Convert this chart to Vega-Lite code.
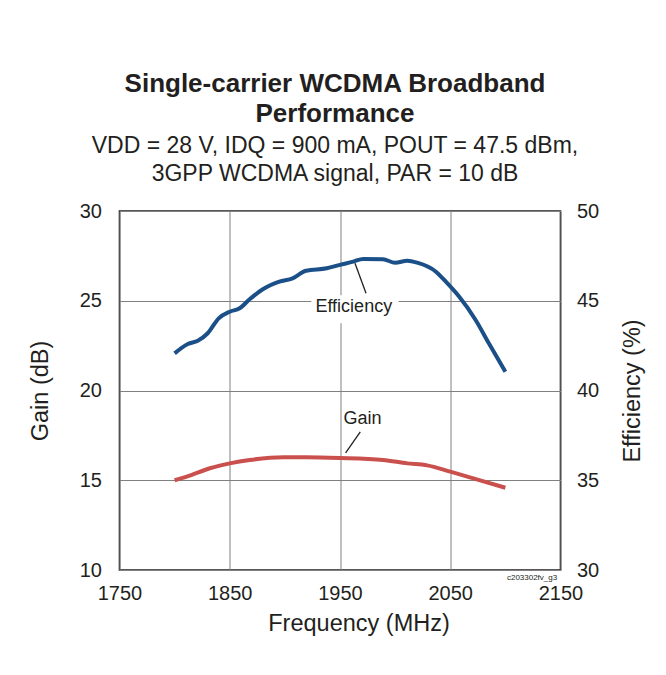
{
  "$schema": "https://vega.github.io/schema/vega-lite/v6.json",
  "width": 441,
  "height": 359,
  "autosize": {"type": "none"},
  "padding": {"left": 119.5, "top": 211, "right": 105.5, "bottom": 105},
  "background": "white",
  "config": {
    "font": "Liberation Sans",
    "view": {"stroke": "#231f20", "strokeWidth": 1.6},
    "axis": {
      "labelFont": "Liberation Sans",
      "titleFont": "Liberation Sans",
      "labelFontSize": 20,
      "titleFontSize": 23.5,
      "titleFontWeight": "normal",
      "labelColor": "#231f20",
      "titleColor": "#231f20",
      "ticks": false,
      "domain": false,
      "labelFlush": false,
      "gridColor": "#808080",
      "gridWidth": 1,
      "gridOpacity": 1
    }
  },
  "title": {
    "text": ["Single-carrier WCDMA Broadband", "Performance"],
    "subtitle": ["VDD = 28 V, IDQ = 900 mA, POUT = 47.5 dBm,", "3GPP WCDMA signal, PAR = 10 dB"],
    "font": "Liberation Sans",
    "subtitleFont": "Liberation Sans",
    "fontSize": 26,
    "fontWeight": "bold",
    "lineHeight": 30,
    "subtitleFontSize": 23,
    "subtitleLineHeight": 28,
    "subtitlePadding": 8,
    "anchor": "middle",
    "frame": "group",
    "offset": 15,
    "dx": -5,
    "color": "#231f20",
    "subtitleColor": "#231f20"
  },
  "encoding": {
    "x": {
      "field": "freq",
      "type": "quantitative",
      "scale": {"domain": [1750, 2150], "nice": false, "zero": false},
      "axis": {
        "values": [1750, 1850, 1950, 2050, 2150],
        "format": "d",
        "title": "Frequency (MHz)",
        "titleX": 239,
        "grid": true,
        "labelPadding": 13,
        "titlePadding": 8
      }
    }
  },
  "layer": [
    {
      "encoding": {
        "y": {
          "field": "gain",
          "type": "quantitative",
          "scale": {"domain": [10, 30], "nice": false, "zero": false},
          "axis": {
            "orient": "left",
            "values": [10, 15, 20, 25, 30],
            "title": "Gain (dB)",
            "grid": true,
            "labelPadding": 18,
            "titlePadding": 27
          }
        }
      },
      "layer": [
        {
          "data": {"values": [
            {"freq": 1800, "gain": 15.0},
            {"freq": 1811, "gain": 15.2},
            {"freq": 1832, "gain": 15.67},
            {"freq": 1850, "gain": 15.94},
            {"freq": 1868, "gain": 16.13},
            {"freq": 1899, "gain": 16.28},
            {"freq": 1919, "gain": 16.28},
            {"freq": 1950, "gain": 16.24},
            {"freq": 1989, "gain": 16.13},
            {"freq": 2011, "gain": 15.94},
            {"freq": 2029, "gain": 15.83},
            {"freq": 2050, "gain": 15.48},
            {"freq": 2074, "gain": 15.05},
            {"freq": 2100, "gain": 14.58}
          ]},
          "mark": {"type": "line", "color": "#c9504d", "strokeWidth": 4, "interpolate": "monotone"}
        },
        {
          "data": {"values": [{"freq": 1955.1, "gain": 16.52, "freq2": 1968.4, "gain2": 17.69}]},
          "mark": {"type": "rule", "color": "#231f20", "strokeWidth": 1.3},
          "encoding": {"x2": {"field": "freq2"}, "y2": {"field": "gain2"}}
        },
        {
          "data": {"values": [{"freq": 1970.4, "gain": 18.41, "label": "Gain"}]},
          "mark": {"type": "text", "fontSize": 18, "color": "#231f20", "baseline": "middle", "align": "center"},
          "encoding": {"text": {"field": "label"}}
        },
        {
          "data": {"values": [{"freq": 2147, "gain": 9.55, "label": "c203302fv_g3"}]},
          "mark": {"type": "text", "fontSize": 8, "color": "#231f20", "baseline": "middle", "align": "right"},
          "encoding": {"text": {"field": "label"}}
        }
      ]
    },
    {
      "encoding": {
        "y": {
          "field": "eff",
          "type": "quantitative",
          "scale": {"domain": [30, 50], "nice": false, "zero": false},
          "axis": {
            "orient": "right",
            "values": [30, 35, 40, 45, 50],
            "title": "Efficiency (%)",
            "titleAngle": 270,
            "grid": false,
            "labelPadding": 16,
            "titlePadding": 46
          }
        }
      },
      "layer": [
        {
          "data": {"values": [
            {"freq": 1800, "eff": 42.07},
            {"freq": 1812, "eff": 42.59},
            {"freq": 1821, "eff": 42.77},
            {"freq": 1830, "eff": 43.19},
            {"freq": 1840, "eff": 44.02},
            {"freq": 1850, "eff": 44.39},
            {"freq": 1859, "eff": 44.58},
            {"freq": 1868, "eff": 45.08},
            {"freq": 1880, "eff": 45.64},
            {"freq": 1895, "eff": 46.06},
            {"freq": 1907, "eff": 46.25},
            {"freq": 1919, "eff": 46.67},
            {"freq": 1938, "eff": 46.81},
            {"freq": 1950, "eff": 47.0},
            {"freq": 1962, "eff": 47.18},
            {"freq": 1971, "eff": 47.33},
            {"freq": 1989, "eff": 47.31},
            {"freq": 2000, "eff": 47.12},
            {"freq": 2011, "eff": 47.23},
            {"freq": 2020, "eff": 47.12},
            {"freq": 2037, "eff": 46.62},
            {"freq": 2046, "eff": 46.06},
            {"freq": 2058, "eff": 45.23},
            {"freq": 2073, "eff": 43.93},
            {"freq": 2085, "eff": 42.63},
            {"freq": 2100, "eff": 41.05}
          ]},
          "mark": {"type": "line", "color": "#1b4f87", "strokeWidth": 4, "interpolate": "monotone"}
        },
        {
          "data": {"values": [{"freq": 1924, "eff": 45.3, "freq2": 2003, "eff2": 43.75}]},
          "mark": {"type": "rect", "color": "white"},
          "encoding": {"x2": {"field": "freq2"}, "y2": {"field": "eff2"}}
        },
        {
          "data": {"values": [{"freq": 1963.6, "eff": 47.09, "freq2": 1973.6, "eff2": 45.42}]},
          "mark": {"type": "rule", "color": "#231f20", "strokeWidth": 1.3},
          "encoding": {"x2": {"field": "freq2"}, "y2": {"field": "eff2"}}
        },
        {
          "data": {"values": [{"freq": 1962.5, "eff": 44.65, "label": "Efficiency"}]},
          "mark": {"type": "text", "fontSize": 18, "color": "#231f20", "baseline": "middle", "align": "center"},
          "encoding": {"text": {"field": "label"}}
        }
      ]
    }
  ],
  "resolve": {"scale": {"y": "independent"}}
}
